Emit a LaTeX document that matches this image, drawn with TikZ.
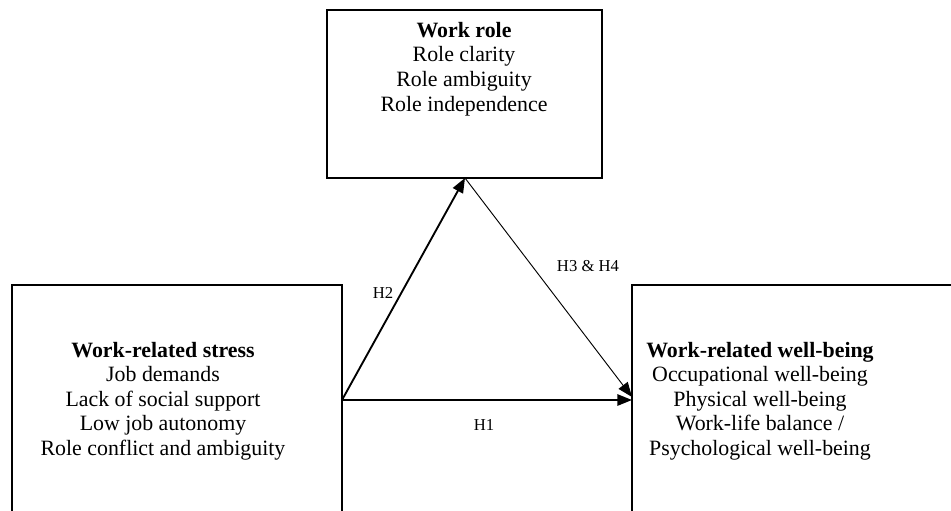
\documentclass[tikz,border=0pt]{standalone}
\usepackage{fontspec}
\setmainfont{Liberation Serif}
\usetikzlibrary{arrows.meta}
\begin{document}
\begin{tikzpicture}[x=0.75pt,y=-0.75pt,
  box/.style={draw, line width=1.5pt, inner sep=0pt, outer sep=0pt, anchor=north west},
  txt/.style={align=center, font=\fontsize{16.4}{18.4}\selectfont, inner sep=0pt},
  lbl/.style={font=\fontsize{12.5}{14}\selectfont, inner sep=0pt},
  bigarrow/.style={line width=1.4pt, -{Triangle[length=11pt,width=8.5pt]}},
  smallarrow/.style={line width=0.7pt, -{Triangle[length=11pt,width=8.5pt]}}]
\useasboundingbox (0,0) rectangle (951,511);
\clip (0,0) rectangle (951,511);
% boxes
\node[box, minimum width=206.25pt, minimum height=126pt] (role) at (327,10) {};
\node[box, minimum width=247.5pt, minimum height=187.5pt] (stress) at (12,285) {};
\node[box, minimum width=262.5pt, minimum height=187.5pt] (well) at (632,285) {};
% texts
\node[txt] (roletxt) at (464,69) {\textbf{Work role}\\Role clarity\\Role ambiguity\\Role independence};
\node[txt] (stresstxt) at (163,401) {\textbf{Work-related stress}\\Job demands\\Lack of social support\\Low job autonomy\\Role conflict and ambiguity};
\node[txt] (welltxt) at (760,401) {\textbf{Work-related well-being}\\Occupational well-being\\Physical well-being\\Work-life balance /\\Psychological well-being};
% connector end points
\coordinate (src) at (stress.north east |- 0,400);
\coordinate (apex) at (role.south west -| 465,0);
\coordinate (h1end) at (well.north west |- 0,400);
\coordinate (h3end) at (well.north west |- 0,397);
% connectors
\draw[bigarrow] (src) -- (h1end);
\draw[bigarrow] (src) -- (apex);
\draw[smallarrow] (apex) -- (h3end);
% labels
\node[lbl] (h2) at (383,293) {H2};
\node[lbl] (h34) at (588,266) {H3 \& H4};
\node[lbl] (h1) at (484,425) {H1};
\end{tikzpicture}
\end{document}
